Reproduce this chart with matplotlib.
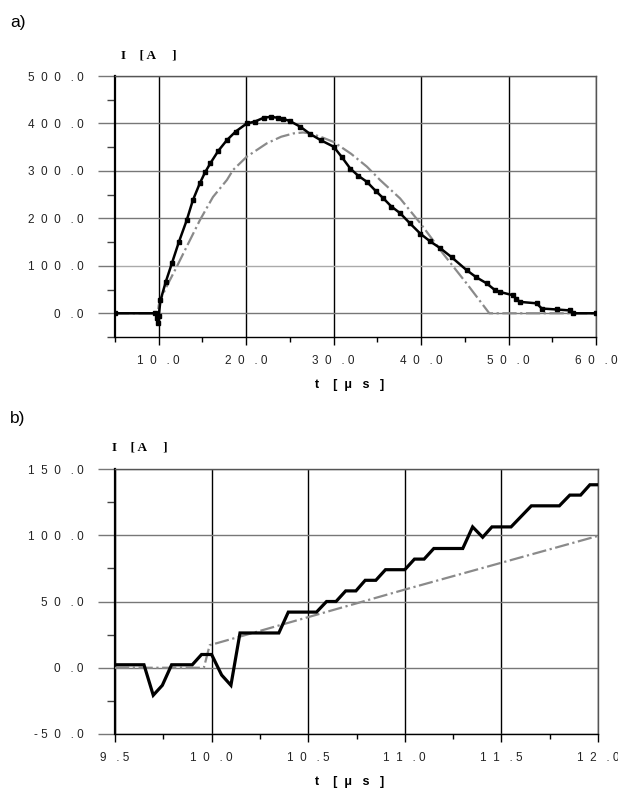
import matplotlib
matplotlib.use("Agg")
import matplotlib.pyplot as plt
from matplotlib.ticker import MultipleLocator, FuncFormatter, FixedLocator

# ---------------- data ----------------
# (a) measured current (black)
a_meas_t = [5.0, 9.6, 9.8, 9.9, 10.0, 10.2, 10.8, 11.5, 12.3, 13.2, 13.9, 14.7, 15.3,
            15.9, 16.8, 17.8, 18.8, 20.07, 21.0, 22.0, 22.8, 23.6, 24.2, 25.0, 26.2,
            27.3, 28.5, 30.0, 30.9, 31.9, 32.8, 33.8, 34.8, 35.7, 36.6, 37.6, 38.7,
            39.9, 41.0, 42.2, 43.5, 45.2, 46.3, 47.5, 48.5, 49.0, 50.5, 50.9, 51.3,
            53.2, 53.8, 55.5, 57.0, 57.4, 60.0]
a_meas_i = [0, 0, -10, -20, -5, 27, 66, 105, 150, 196, 238, 274, 297,
            316, 342, 365, 383, 400, 404, 412, 414, 412, 410, 405, 393,
            378, 365, 351, 330, 305, 290, 277, 258, 242, 225, 211, 190,
            168, 152, 137, 118, 91, 76, 63, 48, 45, 38, 30, 24,
            21, 10, 8, 6, 0, 0]
# (a) model current (grey dash-dot)
a_model_t = [5.0, 9.9, 10.0, 10.15, 11.0, 12.06, 13.0, 14.7, 16.2, 17.8, 18.5, 20.07,
             22.35, 24.0, 25.4, 26.5, 27.3, 28.5, 30.0, 32.0, 33.8, 35.3, 37.6,
             39.9, 42.5, 45.2, 47.8, 60.0]
a_model_i = [0, 0, 17, 27, 60, 98, 133, 196, 245, 281, 302, 330,
             358, 372, 379, 381, 379, 372, 361, 336, 309, 281, 242,
             190, 126, 63, 0, 0]

# (b) zoom: measured current (black)
b_meas_t = [9.5, 9.65, 9.698, 9.745, 9.793, 9.9, 9.948, 10.0, 10.052, 10.1, 10.147,
            10.348, 10.397, 10.543, 10.595, 10.644, 10.694, 10.747, 10.795, 10.85,
            10.9, 11.0, 11.05, 11.1, 11.15, 11.3, 11.351, 11.403, 11.451, 11.55,
            11.655, 11.8, 11.854, 11.91, 11.958, 12.0]
b_meas_i = [2.25, 2.25, -20.75, -13.25, 2.25, 2.25, 10, 10, -5.5, -13.25, 26.25,
            26.25, 42, 42, 50, 50, 58, 58, 66, 66,
            74, 74, 82, 82, 90, 90, 106.3, 98.5, 106.3, 106.3,
            122.2, 122.2, 130.3, 130.3, 138.1, 138.1]
# (b) zoom: model current (grey dash-dot)
b_model_t = [9.5, 9.96, 9.99, 11.0, 12.0]
b_model_i = [0, 0, 17, 59, 99.5]

a_xticks = [10, 20, 30, 40, 50, 60]
a_yticks = [0, 100, 200, 300, 400, 500]
b_xticks = [9.5, 10.0, 10.5, 11.0, 11.5, 12.0]
b_yticks = [-50, 0, 50, 100, 150]

y_label = "I    [ A     ]"
x_label = "t    [  μ   s   ]"

# ---------------- figure ----------------
W, H = 618, 789
fig = plt.figure(figsize=(W / 100, H / 100), dpi=100)


def ax_rect(l, r, t, b):
    return [l / W, 1 - b / H, (r - l) / W, (b - t) / H]


def spaced(v):
    s = f"{v:.1f}"
    out = ""
    for i, ch in enumerate(s):
        out += ch
        if i < len(s) - 1:
            if ch == "-" or ch == ".":
                out += " "
            elif s[i + 1] == ".":
                out += "   "
            else:
                out += "  "
    return out


def style(ax, xmin, xmax, ymin, ymax, xmaj, xmin_step, ymaj, ymin_step):
    ax.set_xlim(xmin, xmax)
    ax.set_ylim(ymin, ymax)
    ax.xaxis.set_major_locator(FixedLocator(xmaj))
    ax.xaxis.set_minor_locator(MultipleLocator(xmin_step))
    ax.yaxis.set_major_locator(FixedLocator(ymaj))
    ax.yaxis.set_minor_locator(MultipleLocator(ymin_step))
    fmt = FuncFormatter(lambda v, p: spaced(v))
    ax.xaxis.set_major_formatter(fmt)
    ax.yaxis.set_major_formatter(fmt)
    ax.grid(True, axis="x", which="major", color="black", lw=1.0)
    ax.grid(True, axis="y", which="major", color="#777777", lw=1.0)
    ax.set_axisbelow(True)
    ax.tick_params(axis="y", which="major", length=12.5, width=1.0, color="#777777",
                   pad=10, labelsize=8.5, labelcolor="#222222",
                   labelfontfamily="Liberation Sans")
    ax.tick_params(axis="y", which="minor", length=6, width=1.0, color="#444444")
    ax.tick_params(axis="x", which="major", length=6, width=1.0, color="black",
                   pad=7, labelsize=8.5, labelcolor="#222222",
                   labelfontfamily="Liberation Sans")
    ax.tick_params(axis="x", which="minor", length=3.5, width=1.0, color="black")
    ax.spines["left"].set_color("black")
    ax.spines["left"].set_linewidth(1.6)
    ax.spines["bottom"].set_color("black")
    ax.spines["bottom"].set_linewidth(1.0)
    ax.spines["top"].set_color("#555555")
    ax.spines["right"].set_color("#555555")
    ax.spines["top"].set_linewidth(1.0)
    ax.spines["right"].set_linewidth(1.0)


# ---- (a) ----
ax1 = fig.add_axes(ax_rect(115, 596, 76, 337))
ax1.plot(a_model_t, a_model_i, color="#8a8a8a", lw=1.6, ls="-.", zorder=3)
ax1.plot(a_meas_t, a_meas_i, color="black", lw=1.8, zorder=4,
         marker="s", ms=2.6, markevery=1)
style(ax1, 5, 60, -50, 500, a_xticks, 5, a_yticks, 50)
gl = ax1.yaxis.get_gridlines()
if len(gl) > 1:
    gl[1].set_color("#aaaaaa")

# ---- (b) ----
ax2 = fig.add_axes(ax_rect(115, 598, 469, 734))
ax2.plot(b_model_t, b_model_i, color="#8a8a8a", lw=1.6, ls="-.", zorder=3)
ax2.plot(b_meas_t, b_meas_i, color="black", lw=2.3, zorder=4, solid_joinstyle="miter")
style(ax2, 9.5, 12.0, -50, 150, b_xticks, 0.25, b_yticks, 25)

# ---- texts ----
fig.text(10 / W, 1 - 22 / H, "a)", fontsize=12.5, family="Liberation Sans", va="center", ha="left")
fig.text(10 / W, 1 - 419 / H, "b)", fontsize=12.5, family="Liberation Sans", va="center", ha="left")
fig.text(121 / W, 1 - 56 / H, y_label, fontsize=9.5, family="Liberation Serif",
         weight="bold", va="center", ha="left")
fig.text(112 / W, 1 - 448 / H, y_label, fontsize=9.5, family="Liberation Serif",
         weight="bold", va="center", ha="left")
fig.text(315 / W, 1 - 385 / H, x_label, fontsize=9, family="Liberation Sans",
         weight="bold", va="center", ha="left")
fig.text(315 / W, 1 - 782 / H, x_label, fontsize=9, family="Liberation Sans",
         weight="bold", va="center", ha="left")

fig.savefig("out.png", dpi=100)
